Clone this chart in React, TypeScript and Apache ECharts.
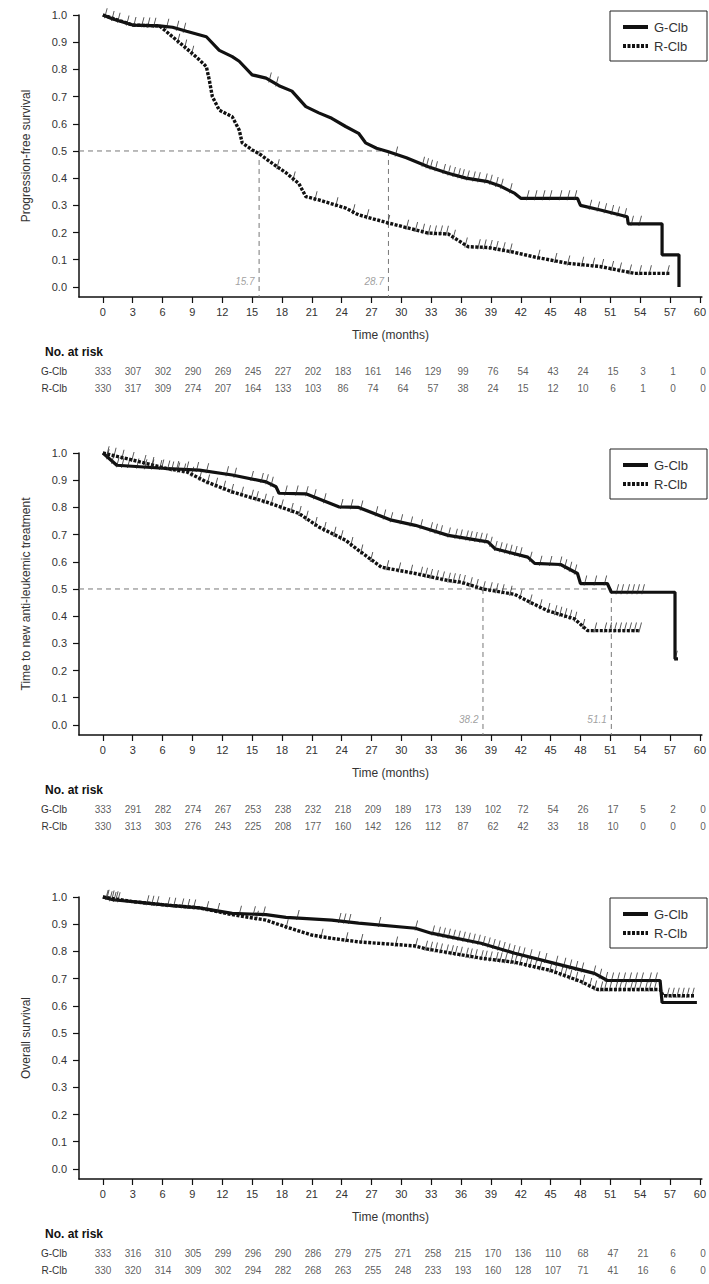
import React, { useEffect, useRef } from "react";
import * as echarts from "echarts";

// ---------- data ----------
const timeTicks = [0, 3, 6, 9, 12, 15, 18, 21, 24, 27, 30, 33, 36, 39, 42, 45, 48, 51, 54, 57, 60];
const survivalTicks = [0, 0.1, 0.2, 0.3, 0.4, 0.5, 0.6, 0.7, 0.8, 0.9, 1.0];
const armNames = ["G-Clb", "R-Clb"];
const yTitles = ["Progression-free survival", "Time to new anti-leukemic treatment", "Overall survival"];

// Progression-free survival
const pfsG = [[0,1.0],[1,0.985],[3,0.963],[5.7,0.96],[7,0.955],[8.4,0.94],[10.4,0.92],[11.7,0.87],[13,0.847],[13.7,0.83],[15,0.78],[16.4,0.768],[17.7,0.74],[19,0.72],[20.4,0.663],[21.7,0.64],[23,0.62],[24.4,0.59],[25.7,0.565],[26.4,0.53],[27.5,0.51],[28.7,0.497],[30.5,0.475],[32.7,0.442],[34.7,0.418],[36.5,0.40],[38.7,0.387],[40,0.37],[41.4,0.344],[42,0.326],[47.7,0.326],[48,0.30],[50,0.283],[52.7,0.258],[52.8,0.232],[56.2,0.232],[56.2,0.118],[57.9,0.118],[57.9,0.0]];
const pfsR = [[0,1.0],[3,0.963],[5.7,0.96],[7,0.92],[8.4,0.877],[9.7,0.835],[10.4,0.81],[10.7,0.76],[11,0.70],[11.7,0.65],[13,0.626],[13.7,0.577],[14,0.53],[15,0.504],[15.7,0.49],[17,0.455],[18.4,0.42],[19.7,0.38],[20.4,0.332],[21.7,0.32],[24.4,0.29],[25.7,0.265],[28.7,0.235],[32.7,0.198],[34.7,0.195],[36.7,0.148],[38.7,0.145],[41,0.13],[43.4,0.11],[46.7,0.087],[50,0.075],[53.4,0.05],[57,0.05]];
const pfsGCensor = [0.3,1,1.6,2.5,3.2,4,4.6,5.2,6.5,7.5,8.2,16.8,17.5,29.5,32.2,32.6,33,33.5,34.3,34.8,35.3,35.8,36.2,36.7,37.3,37.8,38.5,39,39.6,40.1,41,42.7,43.5,44.3,45,46,46.8,47.5,49,49.8,50.5,51.2,51.8,52.5,53.2,54];
const pfsRCensor = [7.6,8.3,9.0,17.6,19.2,21.4,23.5,25.2,26.6,28.7,30.6,31.5,32.2,32.8,33.4,34,34.6,35.3,36.5,37.8,38.4,39,39.6,40.3,41,43.8,45.5,46.8,48.2,49.3,50.2,51.2,52,53,54,55,56.8];
const pfsMedians = [15.7, 28.7];
const pfsRiskG = [333,307,302,290,269,245,227,202,183,161,146,129,99,76,54,43,24,15,3,1,0];
const pfsRiskR = [330,317,309,274,207,164,133,103,86,74,64,57,38,24,15,12,10,6,1,0,0];

// Time to new anti-leukemic treatment
const ttntG = [[0,1.0],[1.4,0.955],[6.4,0.943],[9.7,0.937],[13,0.919],[16.4,0.894],[17.4,0.876],[17.7,0.852],[20.4,0.85],[23.7,0.802],[25.7,0.80],[29,0.753],[31.4,0.734],[34.7,0.697],[38.7,0.673],[39.4,0.648],[42.7,0.617],[43.4,0.594],[46,0.59],[47.7,0.557],[48,0.52],[50.7,0.52],[51.1,0.488],[57.5,0.488],[57.5,0.243],[57.8,0.243]];
const ttntR = [[0,1.0],[3,0.974],[6.4,0.943],[8.4,0.931],[10.4,0.894],[13,0.857],[16.4,0.82],[19.7,0.778],[21.7,0.728],[24.4,0.679],[25.7,0.642],[28,0.58],[31.4,0.557],[34.7,0.531],[36,0.525],[38.2,0.50],[41.4,0.48],[43,0.45],[44.7,0.42],[47.4,0.39],[48.7,0.347],[54,0.347]];
const ttntGCensor = [0.5,1,1.5,2,2.6,3.5,4.3,5,5.8,6.6,7.5,8.5,9.5,10.5,12.5,13.3,15,16,16.5,17,18.4,19.5,20.5,21.3,22.3,24,25,26,27.5,28.3,29,30,31,32,33,33.5,34,34.8,35.5,36,36.6,37,37.5,38,38.5,39,39.5,40,40.5,41,41.5,42,43,44,45,46,46.5,47,47.5,48.5,49.5,50.5,51.7,52.2,52.8,53.3,53.8,54.3,57.6];
const ttntRCensor = [0.5,1.2,2,3,4.2,5,6,7,7.6,8.2,9,9.8,10.6,11.4,12.2,13,14,15,15.5,16.3,17,18,19,19.8,20.5,21.4,22.3,23.3,24,25,26,27,28.6,29.8,31,32,32.5,33,33.6,34.2,34.8,35.3,35.8,36.3,37,37.6,38.3,39,39.6,40.2,41,42,43,44,44.8,45.5,46,46.5,47,47.5,48.3,49.5,50.5,51,51.5,52,52.5,53,53.5,54];
const ttntMedians = [38.2, 51.1];
const ttntRiskG = [333,291,282,274,267,253,238,232,218,209,189,173,139,102,72,54,26,17,5,2,0];
const ttntRiskR = [330,313,303,276,243,225,208,177,160,142,126,112,87,62,42,33,18,10,0,0,0];

// Overall survival
const osG = [[0,1.0],[1,0.99],[3,0.983],[6.4,0.97],[9.7,0.96],[13,0.94],[16.4,0.935],[18.4,0.925],[23,0.915],[25.7,0.904],[31.4,0.885],[33,0.867],[38,0.83],[41.4,0.793],[45.4,0.756],[49.4,0.719],[50.7,0.693],[56,0.693],[56.2,0.612],[59.7,0.612]];
const osR = [[0,1.0],[3,0.983],[6.4,0.97],[9.7,0.96],[13,0.935],[16.4,0.915],[18.4,0.89],[21,0.86],[23,0.848],[25.7,0.835],[31.4,0.82],[32.4,0.81],[38,0.775],[41.4,0.76],[45,0.73],[48,0.69],[49.7,0.66],[56,0.66],[56.3,0.637],[59.5,0.637]];
const osGCensor = [0.4,0.8,1.2,1.6,4.5,5,5.5,6.6,7.2,8,8.6,9.2,10.5,11.6,13.8,15.2,16.2,19.6,23.8,24.3,24.8,27.8,31.5,33.2,33.8,34.3,34.8,35.3,35.8,36.3,36.8,37.3,37.8,38.3,38.8,39.3,39.8,40.3,40.8,41.3,41.8,42.3,43,43.8,44.5,45.6,46.4,47,47.6,48.2,49.4,50,50.6,51.2,51.8,52.4,53,53.6,54.2,55,55.6];
const osRCensor = [0.5,1,1.4,15.5,18.5,22,24.5,26,29.5,31.5,32.5,33,33.5,34,34.6,35.1,35.5,36,36.6,37,37.5,38.1,38.5,39,39.6,40,40.5,41.1,41.5,42,42.6,43,43.5,44,45,45.5,46.1,46.5,47,47.6,48.3,49,49.5,50.1,50.5,51,51.6,52,52.5,53.1,53.5,54,54.6,55,55.5,56.8,57.3,57.8,58.3,58.8,59.3];
const osMedians: number[] = [];
const osRiskG = [333,316,310,305,299,296,290,286,279,275,271,258,215,170,136,110,68,47,21,6,0];
const osRiskR = [330,320,314,309,302,294,282,268,263,255,248,233,193,160,128,107,71,41,16,6,0];

// ---------- layout / style ----------
const FONT = "'Liberation Sans', Arial, sans-serif";
const X_MIN = -2.4;
const X_MAX = 60.2;
const Y_MIN = -0.037;
const GRID_LEFT = 79;
const GRID_WIDTH = 626;
const GRID_HEIGHT = 282;
const PANEL_TOPS = [15, 453, 897];
const LEGEND_TOPS = [11, 449, 898];

const panels = [
  { g: pfsG, r: pfsR, gC: pfsGCensor, rC: pfsRCensor, med: pfsMedians, riskG: pfsRiskG, riskR: pfsRiskR },
  { g: ttntG, r: ttntR, gC: ttntGCensor, rC: ttntRCensor, med: ttntMedians, riskG: ttntRiskG, riskR: ttntRiskR },
  { g: osG, r: osR, gC: osGCensor, rC: osRCensor, med: osMedians, riskG: osRiskG, riskR: osRiskR },
];

function valueAt(curve: number[][], t: number): number {
  for (let i = 0; i < curve.length - 1; i++) {
    const [t0, s0] = curve[i];
    const [t1, s1] = curve[i + 1];
    if (t >= t0 && t <= t1) {
      if (t1 === t0) return s0;
      return s0 + ((s1 - s0) * (t - t0)) / (t1 - t0);
    }
  }
  return curve[curve.length - 1][1];
}

const CENSOR_SYMBOL = "path://M2.2,0 L3,0 L0.8,10 L0,10 Z";

function buildOption() {
  const grid: any[] = [];
  const xAxis: any[] = [];
  const yAxis: any[] = [];
  const series: any[] = [];
  const graphic: any[] = [];

  panels.forEach((p, i) => {
    const top = PANEL_TOPS[i];
    const gi = i * 2;
    grid.push({ left: GRID_LEFT, width: GRID_WIDTH, top, height: GRID_HEIGHT });
    grid.push({ left: GRID_LEFT, width: GRID_WIDTH, top: top + 348, height: 34 });

    xAxis.push({
      type: "value", gridIndex: gi, min: X_MIN, max: X_MAX,
      name: "Time (months)", nameLocation: "middle", nameGap: 32,
      nameTextStyle: { color: "#333", fontSize: 12, fontFamily: FONT },
      axisLine: { show: true, onZero: false, lineStyle: { color: "#111", width: 1.5 } },
      axisTick: { show: true, customValues: timeTicks, length: 6, lineStyle: { color: "#111", width: 1.2 } },
      axisLabel: { show: true, customValues: timeTicks, color: "#333", fontSize: 11, fontFamily: FONT, margin: 9 },
      splitLine: { show: false },
    });
    yAxis.push({
      type: "value", gridIndex: gi, min: Y_MIN, max: 1.0,
      name: yTitles[i], nameLocation: "middle", nameGap: 47,
      nameTextStyle: { color: "#333", fontSize: 12, fontFamily: FONT },
      axisLine: { show: true, onZero: false, lineStyle: { color: "#111", width: 1.5 } },
      axisTick: { show: true, customValues: survivalTicks, length: 6, lineStyle: { color: "#111", width: 1.2 } },
      axisLabel: {
        show: true, customValues: survivalTicks, color: "#333", fontSize: 11, fontFamily: FONT, margin: 12,
        formatter: (v: number) => v.toFixed(1),
      },
      splitLine: { show: false },
    });

    xAxis.push({ type: "value", gridIndex: gi + 1, min: X_MIN, max: X_MAX, show: false });
    yAxis.push({
      type: "category", gridIndex: gi + 1, data: armNames, inverse: true,
      axisLine: { show: false }, axisTick: { show: false }, splitLine: { show: false },
      axisLabel: { color: "#333", fontSize: 10, fontFamily: FONT, margin: 12 },
    });

    if (p.med.length) {
      const mMax = Math.max(...p.med);
      series.push({
        type: "line", xAxisIndex: gi, yAxisIndex: gi, data: [[X_MIN, 0.5], [mMax, 0.5]],
        symbol: "none", silent: true, clip: false,
        lineStyle: { color: "#777", width: 1, type: [5, 4] }, z: 1,
      });
      p.med.forEach((m) => {
        series.push({
          type: "line", xAxisIndex: gi, yAxisIndex: gi, data: [[m, 0.5], [m, Y_MIN]],
          symbol: "none", silent: true, clip: false,
          lineStyle: { color: "#777", width: 1, type: [5, 4] }, z: 1,
        });
      });
      series.push({
        type: "scatter", xAxisIndex: gi, yAxisIndex: gi, data: p.med.map((m) => [m, 0.02]),
        symbolSize: 1, itemStyle: { color: "rgba(0,0,0,0)" }, silent: true,
        label: {
          show: true, position: "left", distance: 4, formatter: (pp: any) => pp.value[0].toFixed(1),
          color: "#888", fontSize: 10, fontStyle: "italic", fontFamily: FONT,
        },
      });
    }

    series.push({
      type: "line", name: armNames[1], xAxisIndex: gi, yAxisIndex: gi, data: p.r,
      symbol: "none", clip: false, lineStyle: { color: "#111", width: 3.4, type: [3, 1.5] }, z: 3,
    });
    series.push({
      type: "line", name: armNames[0], xAxisIndex: gi, yAxisIndex: gi, data: p.g,
      symbol: "none", clip: false, lineStyle: { color: "#111", width: 3.2 }, z: 4,
    });
    series.push({
      type: "scatter", xAxisIndex: gi, yAxisIndex: gi, clip: false,
      data: p.rC.map((t) => [t, valueAt(p.r, t)]),
      symbol: CENSOR_SYMBOL, symbolSize: [3.5, 10], symbolOffset: [0, -3],
      itemStyle: { color: "#222" }, z: 5, silent: true,
    });
    series.push({
      type: "scatter", xAxisIndex: gi, yAxisIndex: gi, clip: false,
      data: p.gC.map((t) => [t, valueAt(p.g, t)]),
      symbol: CENSOR_SYMBOL, symbolSize: [3.5, 10], symbolOffset: [0, -3],
      itemStyle: { color: "#222" }, z: 5, silent: true,
    });

    [p.riskG, p.riskR].forEach((row, k) => {
      series.push({
        type: "scatter", xAxisIndex: gi + 1, yAxisIndex: gi + 1,
        data: timeTicks.map((t, j) => [t, k, row[j]]),
        symbolSize: 1, itemStyle: { color: "rgba(0,0,0,0)" }, silent: true,
        label: {
          show: true, position: "inside", formatter: (pp: any) => String(pp.value[2]),
          color: "#333", fontSize: 10, fontFamily: FONT,
        },
      });
    });

    graphic.push({
      type: "text", left: 45, top: top + 331,
      style: { text: "No. at risk", fill: "#111", font: `bold 12px ${FONT}` },
    });

    const lt = LEGEND_TOPS[i];
    graphic.push({
      type: "group",
      children: [
        { type: "rect", shape: { x: 610, y: lt, width: 97, height: 50 }, style: { fill: "#fff", stroke: "#222", lineWidth: 1 } },
        { type: "line", shape: { x1: 623, y1: lt + 16, x2: 648, y2: lt + 16 }, style: { stroke: "#111", lineWidth: 4 } },
        { type: "line", shape: { x1: 623, y1: lt + 35, x2: 648, y2: lt + 35 }, style: { stroke: "#111", lineWidth: 4, lineDash: [3, 1.5] } },
        { type: "text", x: 654, y: lt + 16, style: { text: armNames[0], fill: "#333", font: `13px ${FONT}`, verticalAlign: "middle" } },
        { type: "text", x: 654, y: lt + 35, style: { text: armNames[1], fill: "#333", font: `13px ${FONT}`, verticalAlign: "middle" } },
      ],
    });
  });

  return {
    animation: false,
    backgroundColor: "#fff",
    textStyle: { fontFamily: FONT },
    grid, xAxis, yAxis, series, graphic,
  };
}

export default function App() {
  const ref = useRef<HTMLDivElement>(null);
  useEffect(() => {
    if (!ref.current) return;
    const chart = echarts.init(ref.current, undefined, { renderer: "svg" });
    chart.setOption(buildOption() as any);
    return () => chart.dispose();
  }, []);
  return (
    <div
      ref={ref}
      style={{ position: "absolute", left: 0, top: 0, width: 709, height: 1284, background: "#fff" }}
    />
  );
}
